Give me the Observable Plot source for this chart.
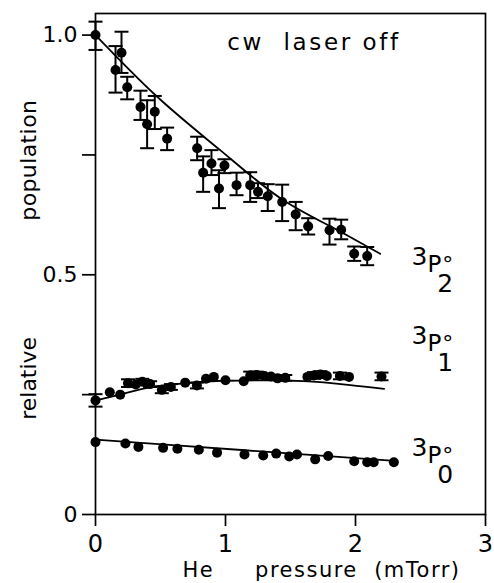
<!DOCTYPE html>
<html><head><meta charset="utf-8">
<script src="https://cdn.jsdelivr.net/npm/d3@7"></script>
<script src="https://cdn.jsdelivr.net/npm/@observablehq/plot@0.6"></script>
<style>body{margin:0;background:#fff}</style>
</head><body><div id="chart"></div>
<script>
// 3P2 (with error bars)
const p2x  = [0, 0.154, 0.20, 0.244, 0.346, 0.397, 0.456, 0.551, 0.782, 0.828, 0.892, 0.95, 0.992, 1.085, 1.19, 1.25, 1.325, 1.436, 1.54, 1.636, 1.80, 1.89, 1.99, 2.09];
const p2y  = [1.0, 0.927, 0.963, 0.891, 0.850, 0.814, 0.840, 0.784, 0.764, 0.713, 0.732, 0.680, 0.728, 0.687, 0.687, 0.673, 0.664, 0.652, 0.626, 0.601, 0.593, 0.594, 0.544, 0.539];
const p2lo = [0.969, 0.880, 0.921, 0.866, 0.823, 0.764, 0.804, 0.760, 0.739, 0.673, 0.708, 0.639, 0.712, 0.666, 0.652, 0.660, 0.633, 0.612, 0.593, 0.584, 0.563, 0.574, 0.529, 0.520];
const p2hi = [1.028, 0.977, 1.007, 0.913, 0.884, 0.864, 0.873, 0.807, 0.788, 0.747, 0.760, 0.718, 0.741, 0.713, 0.714, 0.691, 0.689, 0.688, 0.652, 0.618, 0.617, 0.615, 0.559, 0.558];
const fit2x = [0, 0.46, 0.95, 1.42, 1.91, 2.19];
const fit2y = [1.0, 0.875, 0.762, 0.660, 0.586, 0.544];

// 3P1
const p1x  = [0, 0.11, 0.19, 0.25, 0.31, 0.36, 0.42, 0.51, 0.58, 0.69, 0.78, 0.85, 0.91, 1.0, 1.14, 1.19, 1.24, 1.30, 1.35, 1.40, 1.46, 1.63, 1.68, 1.73, 1.78, 1.88, 1.95, 2.2];
const p1y  = [0.238, 0.255, 0.250, 0.274, 0.271, 0.277, 0.272, 0.260, 0.266, 0.275, 0.269, 0.283, 0.287, 0.280, 0.278, 0.290, 0.291, 0.289, 0.288, 0.284, 0.285, 0.287, 0.290, 0.292, 0.289, 0.289, 0.287, 0.288];
const p1err= [0.013, 0, 0, 0.008, 0, 0.006, 0.006, 0.007, 0.006, 0, 0.006, 0, 0, 0, 0, 0.008, 0.007, 0, 0, 0, 0.006, 0, 0.007, 0.007, 0, 0.007, 0, 0.008];
const fit1x = [0, 0.14, 0.4, 0.7, 1.0, 1.3, 1.6, 1.96, 2.22];
const fit1y = [0.238, 0.247, 0.264, 0.274, 0.279, 0.280, 0.278, 0.270, 0.262];

// 3P0
const p0x = [0, 0.23, 0.33, 0.52, 0.63, 0.795, 0.935, 1.146, 1.29, 1.39, 1.49, 1.55, 1.69, 1.79, 1.99, 2.09, 2.14, 2.295];
const p0y = [0.151, 0.148, 0.141, 0.139, 0.137, 0.135, 0.129, 0.125, 0.123, 0.127, 0.121, 0.125, 0.115, 0.122, 0.111, 0.109, 0.109, 0.109];
const fit0x = [0, 1.15, 2.3];
const fit0y = [0.156, 0.134, 0.112];

// axes
const xTicks = [0, 1, 2, 3];
const xTickLabels = ["0", "1", "2", "3"];
const yTicks = [0, 0.25, 0.5, 0.75, 1.0];
const yTickLabels = ["0", "", "0.5", "", "1.0"];

// labels
const stateSubs = ["2", "1", "0"];
const stateLabelX = [2.431, 2.431, 2.431];
const stateLabelY = [0.537, 0.372, 0.139];
const noteText = "cw\u00a0\u00a0laser\u00a0off";
const noteX = 1.68, noteY = 0.985;
const xTitle = "He\u00a0\u00a0\u00a0\u00a0\u00a0pressure\u00a0\u00a0(mTorr)";
const yTitles = ["population", "relative"];
const yTitleY = [0.739, 0.284];

const zip = (xs, ys) => xs.map((x, i) => ({x, y: ys[i]}));
const P2 = p2x.map((x, i) => ({x, y: p2y[i], lo: p2lo[i], hi: p2hi[i]}));
const P1 = p1x.map((x, i) => ({x, y: p1y[i], lo: p1y[i] - p1err[i], hi: p1y[i] + p1err[i], e: p1err[i]}));
const P1e = P1.filter(d => d.e > 0);
const P0 = zip(p0x, p0y);
const caps = [...P2, ...P1e].flatMap(d => [{x: d.x, y: d.lo}, {x: d.x, y: d.hi}]);
const labels = stateSubs.map((s, i) => ({sub: s, x: stateLabelX[i], y: stateLabelY[i]}));

const capSymbol = {draw(ctx, size) { const r = Math.sqrt(size / Math.PI); ctx.moveTo(-r, 0); ctx.lineTo(r, 0); }};

const font = "DejaVu Sans";
const chart = Plot.plot({
  width: 494, height: 583,
  marginLeft: 95, marginRight: 9, marginTop: 13, marginBottom: 69,
  x: {domain: [0, 3]},
  y: {domain: [0, 1.045]},
  style: {fontFamily: font, color: "black", background: "white"},
  marks: [
    Plot.frame({stroke: "black", strokeWidth: 1.7}),
    Plot.axisX({ticks: xTicks, tickSize: 12, tickPadding: 8, tickFormat: d => xTickLabels[xTicks.indexOf(d)], fontSize: 24, label: null, strokeWidth: 1.7}),
    Plot.axisY({ticks: yTicks, tickSize: 13, tickPadding: 5, tickFormat: d => yTickLabels[yTicks.indexOf(d)], fontSize: 22, label: null, strokeWidth: 1.7}),
    Plot.line(zip(fit2x, fit2y), {x: "x", y: "y", curve: "monotone-x", strokeWidth: 1.8}),
    Plot.line(zip(fit1x, fit1y), {x: "x", y: "y", curve: "monotone-x", strokeWidth: 1.8}),
    Plot.line(zip(fit0x, fit0y), {x: "x", y: "y", curve: "monotone-x", strokeWidth: 1.8}),
    Plot.ruleX(P2, {x: "x", y1: "lo", y2: "hi", strokeWidth: 2}),
    Plot.ruleX(P1e, {x: "x", y1: "lo", y2: "hi", strokeWidth: 2}),
    Plot.dot(caps, {x: "x", y: "y", symbol: capSymbol, r: 7, fill: "none", stroke: "black", strokeWidth: 2}),
    Plot.dot(P2, {x: "x", y: "y", r: 5, fill: "black", stroke: "none"}),
    Plot.dot(P1, {x: "x", y: "y", r: 5, fill: "black", stroke: "none"}),
    Plot.dot(P0, {x: "x", y: "y", r: 5, fill: "black", stroke: "none"}),
    Plot.text([noteText], {x: () => noteX, y: () => noteY, text: d => d, fontSize: 23}),
    Plot.text(labels, {x: "x", y: "y", text: d => "3P°" + d.sub, textAnchor: "start", fontSize: 25}),
    Plot.text([xTitle], {frameAnchor: "bottom", text: d => d, dx: 31, dy: 62, fontSize: 21}),
    Plot.text(yTitles, {frameAnchor: "left", textAnchor: "middle", y: (d, i) => yTitleY[i], text: d => d, rotate: -90, dx: -67, fontSize: 22})
  ]
});

// typographic touches: letter spacing and the term-symbol layout (3 P° with subscript J)
const spacing = new Map([[noteText, 2.6], [xTitle, 1.5], ["population", 0.4]]);
d3.select(chart).selectAll("text").each(function() {
  const t = this.textContent;
  if (spacing.has(t)) this.setAttribute("letter-spacing", spacing.get(t));
  const m = /^3P°(\d)$/.exec(t);
  if (m) {
    const sel = d3.select(this);
    sel.text(null);
    sel.append("tspan").attr("font-size", 25).text("3");
    sel.append("tspan").attr("font-size", 23).attr("dy", 7).text("P");
    sel.append("tspan").attr("font-size", 22).attr("dx", 1).text("°");
    sel.append("tspan").attr("font-size", 25).attr("dx", -16).attr("dy", 20).text(m[1]);
  }
});
document.getElementById("chart").append(chart);
</script>
</body></html>
